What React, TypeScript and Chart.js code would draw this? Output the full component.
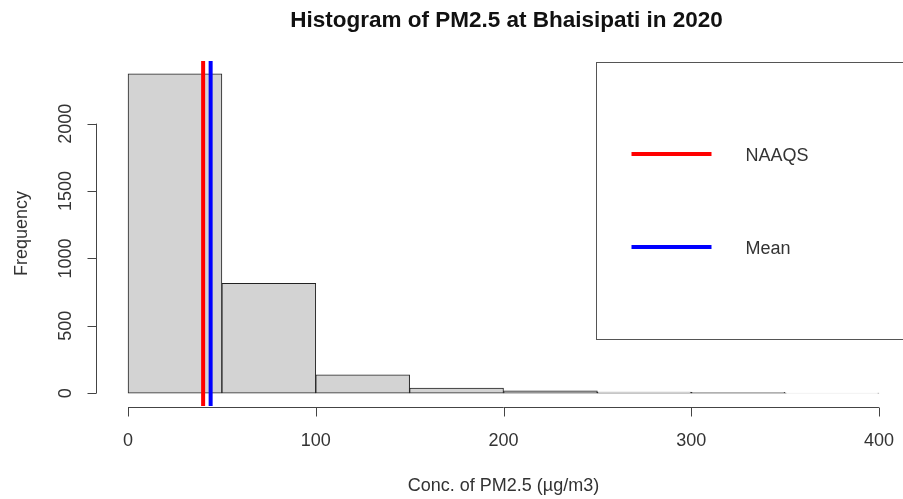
import React, { useEffect, useRef } from "react";
import { Chart, registerables } from "chart.js";

Chart.register(...registerables);

// ---- data ----
const binStarts = [0, 50, 100, 150, 200, 250, 300, 350];
const binWidth = 50;
const counts = [2370, 816, 136, 38, 17, 8, 7, 1];
const xTicks = [0, 100, 200, 300, 400];
const yTicks = [0, 500, 1000, 1500, 2000];
const naaqsValue = 40;
const meanValue = 44;
const legendLabels = ["NAAQS", "Mean"];
const legendColors = ["#ff0000", "#0000ff"];

const titleText = "Histogram of PM2.5 at Bhaisipati in 2020";
const xLabel = "Conc. of PM2.5 (\u00b5g/m3)";
const yLabel = "Frequency";

const FONT = "'Liberation Sans', Arial, sans-serif";

const xMinData = 0;
const xMaxData = 400;
const yMaxData = Math.max(...counts);
const xPad = (xMaxData - xMinData) * 0.04;
const yPad = yMaxData * 0.04;

const rPlugin = {
  id: "rStyle",
  afterDraw(chart: any) {
    const ctx = chart.ctx as CanvasRenderingContext2D;
    const ca = chart.chartArea;
    const xs = chart.scales.x;
    const ys = chart.scales.y;
    ctx.save();

    // title
    const cx = (ca.left + ca.right) / 2;
    ctx.fillStyle = "#111";
    ctx.font = `bold 22.5px ${FONT}`;
    ctx.textAlign = "center";
    ctx.textBaseline = "alphabetic";
    ctx.fillText(titleText, cx + 3, 27);

    // x axis
    ctx.strokeStyle = "#444";
    ctx.lineWidth = 1;
    const ay = Math.round(ca.bottom) + 1.5;
    ctx.beginPath();
    ctx.moveTo(xs.getPixelForValue(xTicks[0]), ay);
    ctx.lineTo(xs.getPixelForValue(xTicks[xTicks.length - 1]), ay);
    xTicks.forEach((t) => {
      const px = Math.round(xs.getPixelForValue(t)) + 0.5;
      ctx.moveTo(px, ay);
      ctx.lineTo(px, ay + 9);
    });
    ctx.stroke();
    ctx.fillStyle = "#333";
    ctx.font = `18px ${FONT}`;
    ctx.textAlign = "center";
    ctx.textBaseline = "middle";
    xTicks.forEach((t) => {
      ctx.fillText(String(t), xs.getPixelForValue(t), 441);
    });
    ctx.fillText(xLabel, cx, 486);

    // y axis
    const ax = Math.round(ca.left) - 1.5;
    ctx.beginPath();
    ctx.moveTo(ax, ys.getPixelForValue(yTicks[0]));
    ctx.lineTo(ax, ys.getPixelForValue(yTicks[yTicks.length - 1]));
    yTicks.forEach((t) => {
      const py = Math.round(ys.getPixelForValue(t)) + 0.5;
      ctx.moveTo(ax, py);
      ctx.lineTo(ax - 9, py);
    });
    ctx.stroke();
    yTicks.forEach((t) => {
      ctx.save();
      ctx.translate(66, ys.getPixelForValue(t));
      ctx.rotate(-Math.PI / 2);
      ctx.fillText(String(t), 0, 0);
      ctx.restore();
    });
    ctx.save();
    ctx.translate(22, (ca.top + ca.bottom) / 2);
    ctx.rotate(-Math.PI / 2);
    ctx.fillText(yLabel, 0, 0);
    ctx.restore();

    // legend box
    const boxLeft = Math.round(ca.right) - 313 + 0.5;
    const boxTop = Math.round(ca.top) + 1.5;
    const boxBottom = 339.5;
    ctx.strokeStyle = "#555";
    ctx.lineWidth = 1;
    ctx.strokeRect(boxLeft, boxTop, ca.right - boxLeft + 2, boxBottom - boxTop);
    const rows = [154, 247];
    legendLabels.forEach((lab, i) => {
      ctx.strokeStyle = legendColors[i];
      ctx.lineWidth = 4;
      ctx.beginPath();
      ctx.moveTo(boxLeft + 35, rows[i]);
      ctx.lineTo(boxLeft + 115, rows[i]);
      ctx.stroke();
      ctx.fillStyle = "#333";
      ctx.textAlign = "left";
      ctx.textBaseline = "middle";
      ctx.fillText(lab, boxLeft + 149, rows[i] + 2);
    });
    ctx.restore();
  },
};

export default function App() {
  const ref = useRef<HTMLCanvasElement>(null);
  useEffect(() => {
    if (!ref.current) return;
    const yMin = -yPad;
    const yMax = yMaxData + yPad;
    const chart = new Chart(ref.current, {
      type: "bar",
      data: {
        datasets: [
          {
            type: "line",
            label: legendLabels[0],
            data: [
              { x: naaqsValue, y: yMin },
              { x: naaqsValue, y: yMax },
            ],
            borderColor: legendColors[0],
            borderWidth: 4,
            pointRadius: 0,
            order: 0,
          } as any,
          {
            type: "line",
            label: legendLabels[1],
            data: [
              { x: meanValue, y: yMin },
              { x: meanValue, y: yMax },
            ],
            borderColor: legendColors[1],
            borderWidth: 4,
            pointRadius: 0,
            order: 0,
          } as any,
          {
            type: "bar",
            label: "Frequency",
            data: binStarts.map((s, i) => ({ x: s + binWidth / 2, y: counts[i] })),
            backgroundColor: "#d3d3d3",
            borderColor: "#222",
            borderWidth: 1,
            borderSkipped: false,
            barPercentage: 1,
            categoryPercentage: 1,
            order: 5,
          } as any,
        ],
      },
      options: {
        animation: false,
        responsive: false,
        devicePixelRatio: 1,
        layout: { padding: { left: 98, top: 61, right: 11, bottom: 93 } },
        plugins: {
          legend: { display: false },
          tooltip: { enabled: false },
          title: { display: false },
        },
        scales: {
          x: {
            type: "linear",
            display: false,
            offset: false,
            grid: { offset: false },
            min: xMinData - xPad,
            max: xMaxData + xPad,
            afterBuildTicks: (scale: any) => {
              scale.ticks = xTicks.map((v) => ({ value: v }));
            },
          },
          y: {
            type: "linear",
            display: false,
            min: yMin,
            max: yMax,
            afterBuildTicks: (scale: any) => {
              scale.ticks = yTicks.map((v) => ({ value: v }));
            },
          },
        },
      },
      plugins: [rPlugin],
    });
    return () => chart.destroy();
  }, []);
  return (
    <div
      style={{
        position: "fixed",
        left: 0,
        top: 0,
        width: 903,
        height: 499,
        overflow: "hidden",
        background: "#fff",
      }}
    >
      <canvas ref={ref} width={920} height={499} style={{ display: "block" }} />
    </div>
  );
}
